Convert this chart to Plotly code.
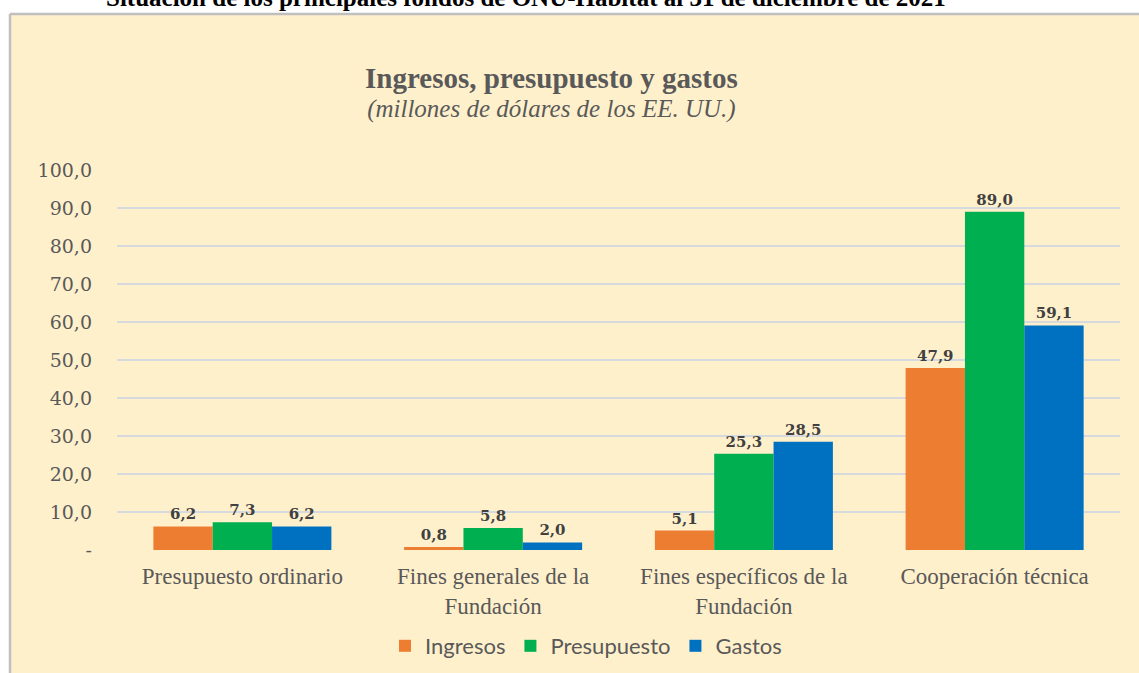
import plotly.graph_objects as go

categories = ["Presupuesto ordinario", "Fines generales de la<br>Fundación",
              "Fines específicos de la<br>Fundación", "Cooperación técnica"]
series_names = ["Ingresos", "Presupuesto", "Gastos"]
ingresos = [6.2, 0.8, 5.1, 47.9]
presupuesto = [7.3, 5.8, 25.3, 89.0]
gastos = [6.2, 2.0, 28.5, 59.1]
colors = ["#ED7D31", "#00B050", "#0070C0"]
ytick_vals = [0, 10, 20, 30, 40, 50, 60, 70, 80, 90, 100]
ytick_text = ["-", "10,0", "20,0", "30,0", "40,0", "50,0", "60,0", "70,0", "80,0", "90,0", "100,0"]

W, H = 1139, 673
PLOT_L, PLOT_R, PLOT_T, PLOT_B = 117, 1120, 170, 550   # plot area in page pixels
L, T = PLOT_L, PLOT_T
R, B = W - PLOT_R, H - PLOT_B
PW, PH = PLOT_R - PLOT_L, PLOT_B - PLOT_T


def px(x):
    return (x - PLOT_L) / PW


def py(y):
    return (PLOT_B - y) / PH


cream = "#FFF0CC"
grey_txt = "#595959"

fig = go.Figure()
for name, vals, col in zip(series_names, [ingresos, presupuesto, gastos], colors):
    fig.add_trace(go.Bar(
        name=name, x=categories, y=vals, marker=dict(color=col, line=dict(width=0)),
        texttemplate="%{y:.1f}", textposition="outside", cliponaxis=False,
        textfont=dict(family="DejaVu Serif", size=15, color="#404040", weight="bold"),
    ))

fig.update_layout(
    width=W, height=H,
    margin=dict(l=L, r=R, t=T, b=B, autoexpand=False),
    paper_bgcolor=cream, plot_bgcolor=cream,
    separators=",.",
    barmode="group", bargap=0.29, bargroupgap=0,
    showlegend=True,
    legend=dict(orientation="h", x=px(586), xanchor="center", y=py(646), yanchor="middle",
                font=dict(family="Lato", size=22, color=grey_txt),
                bgcolor="rgba(0,0,0,0)", traceorder="normal"),
    xaxis=dict(showgrid=False, showline=False, ticks="",
               tickfont=dict(family="Liberation Serif", size=23, color=grey_txt),
               ticklabelstandoff=10),
    yaxis=dict(range=[0, 100], tickvals=ytick_vals, ticktext=ytick_text,
               showgrid=True, gridcolor="#D6D9DE", gridwidth=1.5, zeroline=False,
               showline=False, ticks="",
               tickfont=dict(family="DejaVu Serif", size=19, color=grey_txt),
               ticklabelstandoff=24),
)

fig.add_annotation(
    text=("<b><span style='font-size:29px'>Ingresos, presupuesto y gastos</span></b><br>"
          "<i><span style='font-size:25px'>(millones de dólares de los EE. UU.)</span></i>"),
    xref="paper", yref="paper", x=px(551), y=py(92), xanchor="center", yanchor="middle",
    showarrow=False, font=dict(family="Liberation Serif", size=22, color=grey_txt))

# white page margins outside the chart panel
fig.add_shape(type="rect", xref="paper", yref="paper", x0=px(-20), x1=px(W + 20), y0=py(13), y1=py(-20),
              fillcolor="white", line=dict(width=0), layer="below")
fig.add_shape(type="rect", xref="paper", yref="paper", x0=px(-20), x1=px(9), y0=py(H + 20), y1=py(-20),
              fillcolor="white", line=dict(width=0), layer="below")
fig.add_shape(type="line", xref="paper", yref="paper", x0=px(10), x1=px(W + 20), y0=py(14), y1=py(14),
              line=dict(color="#BFBFBF", width=2.5))
fig.add_shape(type="line", xref="paper", yref="paper", x0=px(10), x1=px(10), y0=py(14), y1=py(H + 20),
              line=dict(color="#BFBFBF", width=2.5))

fig.add_annotation(text="<b>Situación de los principales fondos de ONU-Hábitat al 31 de diciembre de 2021</b>",
                   xref="paper", yref="paper", x=px(526), y=py(-2), xanchor="center", yanchor="middle",
                   showarrow=False, font=dict(family="Liberation Serif", size=25, color="black"))

fig.write_html("out.html", config={"displayModeBar": False},
               post_script="document.body.style.margin='0';")
